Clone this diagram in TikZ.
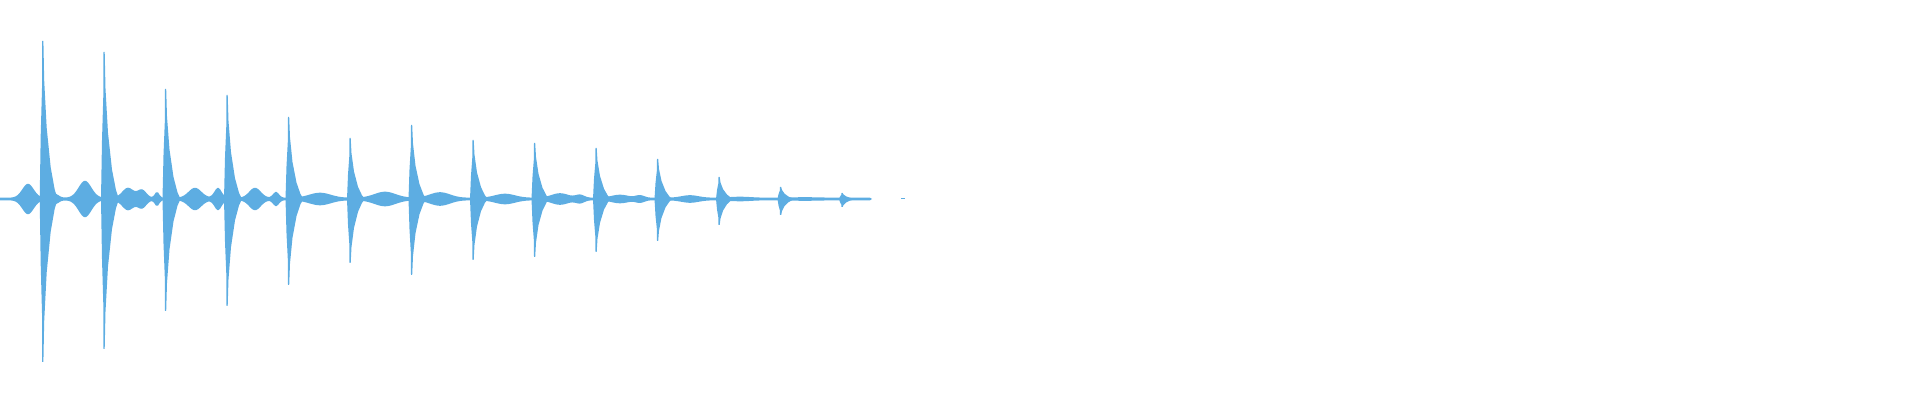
\documentclass[tikz,border=0pt]{standalone}
\definecolor{wave}{HTML}{5DADE2}
\begin{document}
\begin{tikzpicture}[x=0.5pt,y=-0.5pt]
\useasboundingbox (0,0) rectangle (1920,400);
\pgfmathdeclarefunction{gs}{3}{%
  \pgfmathparse{exp(-(min(abs(#1-#2)/#3,5))^2)}%
}
\pgfmathdeclarefunction{env}{1}{%
  \pgfmathparse{(#1<872)*1.3
   +14*gs(#1,28,8)+4*gs(#1,55,5)+17*gs(#1,85,9)
   +10*gs(#1,128,8)+8*gs(#1,142,6)+6*gs(#1,157,3)
   +10*gs(#1,195,9)+10*gs(#1,218,5)+10*gs(#1,255,8)
   +6*gs(#1,276,4)+5*gs(#1,320,15)+6*gs(#1,385,15)
   +5.5*gs(#1,440,14)+4*gs(#1,505,14)+4.5*gs(#1,560,12)
   +3*gs(#1,580,6)+3*gs(#1,620,12)+2.5*gs(#1,640,6)
   +2.5*gs(#1,690,12)+1*gs(#1,740,15)+0.5*gs(#1,805,20)}%
}
\fill[wave] plot[domain=0:872,samples=437] (\x,{199-env(\x)}) -- plot[domain=872:0,samples=437] (\x,{199+env(\x)}) -- cycle;
\foreach \x/\t/\b in {42.7/41/362,104/52/349,165.5/89/311,227/95/306,288.5/117/285,350/138/263,411.5/125/275,473/140/260,534.5/143/257,596/148/252,657.5/159/241,719/177/225,780.5/187/215,842/193/207}{
  \pgfmathsetmacro{\A}{199-\t}\pgfmathsetmacro{\B}{\b-199}
  \fill[wave] (\x-3,199) -- (\x-2,199-0.4*\A) -- (\x-0.7,199-0.7*\A) -- (\x-0.5,\t) -- (\x+0.7,\t)
    -- (\x+1.5,199-0.75*\A) -- (\x+4,199-0.45*\A) -- (\x+8,199-0.2*\A) -- (\x+12,199-0.06*\A) -- (\x+15,199)
    -- (\x+12,199+0.06*\B) -- (\x+8,199+0.2*\B) -- (\x+4,199+0.45*\B) -- (\x+1.5,199+0.75*\B)
    -- (\x+0.7,\b) -- (\x-0.5,\b) -- (\x-0.7,199+0.7*\B) -- (\x-2,199+0.4*\B) -- cycle;
}
\fill[wave] (901,198.5) rectangle (905,199.5);
\end{tikzpicture}
\end{document}
